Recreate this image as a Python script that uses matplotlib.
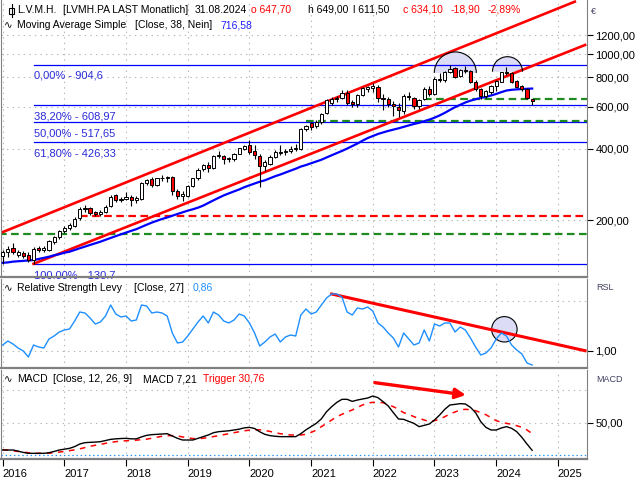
import numpy as np
import matplotlib
matplotlib.use('Agg')
import matplotlib.pyplot as plt
from matplotlib.patches import Wedge, Arc, Circle, Rectangle
from matplotlib.lines import Line2D
from matplotlib.transforms import IdentityTransform
from matplotlib.ticker import NullLocator

plt.rcParams['font.family'] = ['Liberation Sans', 'DejaVu Sans']
plt.rcParams['lines.scale_dashes'] = False

W, H = 640, 480

# ---------------- data (monthly, Jan 2016 .. Aug 2024) ----------------
opens = [141, 146, 152, 142, 145, 142, 136, 152, 149, 150, 162, 169,
         179, 185, 188, 203, 222, 224, 216, 211, 217, 229, 255, 243,
         245, 250, 242, 245, 286, 297, 282, 300, 301, 303, 265, 252,
         253, 277, 300, 327, 342, 330, 372, 373, 361, 362, 380, 400,
         414, 390, 372, 337, 345, 370, 388, 386, 392, 400, 398, 482,
         512, 498, 520, 565, 625, 645, 655, 688, 627, 615, 675, 715,
         720, 730, 655, 650, 615, 598, 578, 668, 655, 605, 645, 712,
         682, 790, 775, 842, 875, 810, 862, 850, 765, 712, 665, 695,
         735, 765, 840, 833, 768, 735, 712, 647.7]
highs = [149, 155, 160, 150, 148, 146, 154, 155, 156, 165, 172, 182,
         189, 194, 205, 226, 232, 228, 219, 221, 231, 254, 258, 249,
         262, 254, 252, 289, 299, 303, 302, 310, 308, 308, 270, 265,
         280, 302, 330, 345, 350, 375, 390, 376, 370, 385, 404, 415,
         436, 416, 380, 358, 375, 395, 414, 400, 410, 420, 490, 505,
         520, 530, 565, 645, 660, 665, 708, 708, 640, 680, 725, 735,
         758, 745, 680, 660, 635, 620, 680, 690, 660, 650, 730, 735,
         800, 830, 850, 904.6, 880, 870, 895, 855, 775, 720, 710, 740,
         775, 845, 885, 840, 780, 745, 720, 649]
lows = [131, 140, 144, 140, 138, 133, 130.7, 146, 146, 148, 158, 166,
        176, 181, 186, 200, 216, 210, 207, 207, 215, 227, 238, 238,
        243, 230, 236, 243, 280, 275, 278, 292, 290, 255, 245, 240,
        250, 275, 296, 322, 320, 328, 365, 345, 350, 355, 378, 395,
        380, 362, 276, 322, 340, 365, 375, 375, 385, 392, 395, 475,
        478, 490, 510, 560, 610, 630, 645, 612, 600, 600, 665, 690,
        690, 630, 580, 600, 550, 545, 560, 640, 585, 585, 640, 665,
        675, 765, 760, 830, 795, 800, 830, 755, 700, 645, 655, 680,
        700, 760, 820, 755, 720, 700, 645, 611.5]
closes = [146, 151, 147, 146, 141, 136, 151, 149, 153, 163, 169, 179,
          185, 190, 201, 222, 225, 214, 212, 217, 228, 251, 243, 245,
          249, 242, 248, 286, 295, 282, 300, 302, 304, 265, 252, 258,
          277, 300, 326, 342, 330, 372, 375, 362, 365, 380, 402, 411,
          388, 376, 337, 350, 370, 388, 384, 392, 400, 402, 482, 498,
          495, 520, 562, 640, 650, 655, 688, 625, 618, 672, 718, 727,
          732, 655, 648, 615, 603, 580, 668, 658, 605, 640, 712, 680,
          790, 775, 842, 868, 805, 862, 850, 765, 712, 665, 700, 735,
          768, 840, 833, 765, 728, 712, 653, 634.1]
ma38 = [132, 132.5, 133.5, 134, 134.5, 135, 135.6, 137, 138.5, 140, 142, 143.5,
        145.5, 147, 149.5, 152, 154.5, 157, 159.5, 162, 165, 168, 171, 174,
        177, 180, 183, 187, 191, 195, 198.5, 202, 205, 208.5, 212, 215.5,
        219, 222, 225.5, 230, 236, 242, 248, 254, 259, 264, 269, 275,
        280, 285, 290, 294, 300, 306, 311, 317, 323, 329, 336, 341,
        347, 353, 359, 367, 375, 383, 391, 400, 410, 420, 432, 443,
        452, 461, 468, 475, 481, 487, 494, 501, 508, 514, 522, 530,
        540, 552, 566, 582, 598, 612, 626, 637, 646, 654, 661, 670,
        680, 692, 703, 708, 711, 713, 715, 716.58]
rsl = [1.06, 1.10, 1.07, 1.03, 1.00, 0.94, 1.06, 1.04, 1.03, 1.12, 1.15, 1.19,
       1.21, 1.22, 1.30, 1.39, 1.38, 1.33, 1.27, 1.29, 1.35, 1.46, 1.37, 1.34,
       1.35, 1.30, 1.31, 1.46, 1.45, 1.38, 1.39, 1.38, 1.35, 1.18, 1.08, 1.09,
       1.15, 1.22, 1.29, 1.35, 1.28, 1.39, 1.36, 1.30, 1.28, 1.31, 1.37, 1.35,
       1.28, 1.18, 1.05, 1.09, 1.14, 1.17, 1.09, 1.14, 1.16, 1.15, 1.36, 1.42,
       1.37, 1.39, 1.46, 1.53, 1.57, 1.57, 1.54, 1.39, 1.36, 1.43, 1.42, 1.44,
       1.40, 1.28, 1.24, 1.18, 1.13, 1.04, 1.18, 1.12, 1.06, 1.08, 1.21, 1.10,
       1.27, 1.25, 1.28, 1.28, 1.19, 1.24, 1.21, 1.13, 1.04, 0.96, 0.98, 1.03,
       1.12, 1.18, 1.15, 1.06, 1.01, 0.97, 0.88, 0.86]
macd = [7.7, 7.7, 7.7, 6.0, 4.0, 2.6, 2.6, 2.6, 2.6, 3.5, 5.5, 7.7,
        9.0, 10.3, 13.0, 17.0, 19.1, 19.6, 20.0, 20.6, 22.4, 24.2, 25.0, 25.5,
        25.8, 25.0, 25.0, 28.0, 30.4, 31.5, 32.0, 32.5, 33.0, 29.4, 25.8, 23.2,
        23.2, 23.2, 25.8, 28.4, 31.0, 34.5, 36.1, 36.8, 37.5, 38.7, 40.0, 42.0,
        42.8, 41.0, 36.0, 32.0, 30.0, 29.0, 28.4, 28.4, 28.4, 28.4, 33.0, 39.0,
        44.0, 49.0, 56.0, 67.0, 74.8, 81.5, 86.2, 86.2, 83.0, 85.1, 86.7, 88.2,
        91.3, 88.8, 82.6, 75.9, 65.5, 55.7, 55.2, 52.0, 49.0, 43.9, 45.9, 48.0,
        54.2, 61.9, 70.7, 77.4, 78.4, 79.5, 79.0, 73.8, 65.5, 51.6, 42.8, 38.7,
        38.7, 41.8, 43.9, 41.3, 36.1, 27.3, 17.0, 7.21]
trigger = [8.3, 7.5, 6.5, 5.5, 4.5, 3.5, 2.6, 2.6, 2.6, 2.8, 3.5, 4.5,
           5.5, 6.7, 8.0, 9.5, 11.5, 13.5, 15.0, 16.5, 18.0, 19.5, 20.6, 21.5,
           22.0, 22.5, 23.0, 23.7, 24.5, 26.0, 27.5, 29.0, 30.0, 30.0, 29.5, 28.0,
           26.5, 25.5, 25.0, 26.0, 27.0, 28.5, 30.0, 31.5, 33.0, 34.5, 36.0, 37.5,
           38.5, 39.0, 39.0, 38.0, 36.5, 34.5, 33.0, 32.0, 31.0, 31.0, 31.0, 32.0,
           35.0, 38.5, 43.9, 49.0, 54.2, 59.3, 63.0, 66.6, 69.7, 73.8, 77.4, 80.5,
           81.5, 81.5, 81.0, 77.9, 74.8, 70.7, 65.5, 63.0, 59.3, 56.7, 54.2, 51.6,
           53.2, 55.2, 59.3, 63.5, 66.6, 69.7, 70.7, 70.2, 68.6, 65.5, 62.4, 57.8,
           53.2, 50.6, 49.0, 47.5, 45.4, 42.8, 38.7, 33.0]

years = ['2016', '2017', '2018', '2019', '2020', '2021', '2022', '2023', '2024', '2025']
price_ticks = [200, 400, 600, 800, 1000, 1200]
price_tick_labels = ['200,00', '400,00', '600,00', '800,00', '1000,00', '1200,00']

fib_levels = [904.6, 608.97, 517.65, 426.33, 130.7]
fib_labels = ['0,00% - 904,6', '38,20% - 608,97', '50,00% - 517,65',
              '61,80% - 426,33', '100,00% - 130,7']
fib_start = 6

# horizontal dashed support / resistance lines: (price, start month, colour)
hlines_dashed = [(647.7, 82, 'green'), (524.0, 59, 'green'),
                 (208.5, 15, 'red'), (174.6, -1, 'green')]

channel_upper = ([-0.1, 111.3], [177.5, 1666.0])
channel_lower = ([6.0, 113.3], [130.7, 1094.0])
rsl_trend = ([64.0, 113.3], [1.57, 1.003])
macd_arrow = ((72.4, 112.0), (90.1, 92.9))
domes = [(88.05, 834.0), (98.2, 844.0)]
rsl_mark = (97.6, 1.217)

# ---------------- figure ----------------
fig = plt.figure(figsize=(W / 100, H / 100), dpi=100)
fig.patch.set_facecolor('white')

def rect(top, bottom):
    return [1 / W, 1 - bottom / H, 586 / W, (bottom - top) / H]

axp = fig.add_axes(rect(0, 277))
axr = fig.add_axes(rect(279, 368), sharex=axp)
axm = fig.add_axes(rect(370, 459), sharex=axp)

XMIN, XMAX = -0.33, 113.67
GRID = dict(color='#b8b8b8', lw=0.8, ls=(0, (1, 3)), zorder=0.5)
GREEN = '#1f8a1f'
year_pos = list(range(0, 12 * len(years), 12))

for ax in (axp, axr, axm):
    ax.set_facecolor('white')
    for s in ('left', 'right', 'bottom', 'top'):
        ax.spines[s].set_color('#808080')
        ax.spines[s].set_linewidth(0.8)
    ax.spines['bottom'].set_linewidth(1.6)
    ax.spines['top'].set_visible(False)
    for k in year_pos:
        ax.axvline(k, **GRID)
    ax.yaxis.tick_right()
    ax.tick_params(axis='y', direction='out', length=4, width=0.8, pad=2,
                   labelsize=8, colors='black')
    ax.tick_params(axis='x', length=0, labelbottom=False)
    ax.set_xlim(XMIN, XMAX)

# ---- price panel ----
axp.set_yscale('log')
axp.set_ylim(115.0, 1693.0)
axp.yaxis.set_minor_locator(NullLocator())
axp.set_yticks(price_ticks)
axp.set_yticklabels(price_tick_labels)
for p in price_ticks:
    axp.axhline(p, **GRID)

idx = np.arange(len(closes))
o = np.array(opens, float)
c = np.array(closes, float)
hi = np.array(highs, float)
lo = np.array(lows, float)

# fib lines
for lev, lab in zip(fib_levels, fib_labels):
    axp.plot([fib_start, XMAX], [lev, lev], color='#0000ff', lw=0.9, zorder=2)
    t = axp.annotate(lab, xy=(fib_start, lev), xytext=(0, -4.5), textcoords='offset points',
                     ha='left', va='top', fontsize=8, color='#2a2ad8', zorder=2)
    t.set_clip_on(True)

# dashed lines
for lev, k0, col in hlines_dashed:
    colr = GREEN if col == 'green' else '#ff0000'
    ln, = axp.plot([k0, XMAX], [lev, lev], color=colr, lw=1.6, zorder=2.2)
    ln.set_dashes((5.5, 3.2))

# channel
axp.plot(channel_upper[0], channel_upper[1], color='#ff0000', lw=1.9, zorder=2.5)
axp.plot(channel_lower[0], channel_lower[1], color='#ff0000', lw=1.9, zorder=2.5)

# moving average
axp.plot(idx, ma38, color='#0000ff', lw=1.6, zorder=2.6)

# domes (drawn in pixel space, anchored on data points)
for (dk, dp), r in zip(domes, (21, 15)):
    cx, cy = axp.transData.transform((dk, dp))
    w = Wedge((cx, cy), r, 0, 180, facecolor='#dcdcf6', edgecolor='none',
              transform=IdentityTransform(), zorder=1.5)
    axp.add_patch(w)
    a = Arc((cx, cy), 2 * r, 2 * r, theta1=0, theta2=180, edgecolor='black', lw=0.8,
            transform=IdentityTransform(), zorder=3.5)
    axp.add_patch(a)

# candles
up = c >= o
axp.vlines(idx, lo, hi, color='black', lw=0.8, zorder=3)
body_lo = np.minimum(o, c)
body_h = np.maximum(np.abs(c - o), body_lo * 0.006)
axp.bar(idx, body_h, bottom=body_lo, width=0.62,
        color=['white' if u else '#ff0000' for u in up],
        edgecolor='black', linewidth=0.7, zorder=4)

# ---- RSL panel ----
axr.set_ylim(0.83, 1.72)
axr.set_yticks([1.0])
axr.set_yticklabels(['1,00'])
axr.axhline(1.0, **GRID)
axr.axhline(1.5, **GRID)
cx, cy = axr.transData.transform(rsl_mark)
axr.add_patch(Circle((cx, cy), 12.7, facecolor='#dcdcf6', edgecolor='black', lw=0.8,
                     transform=IdentityTransform(), zorder=1.5))
axr.plot(idx, rsl, color='#1e8fff', lw=1.0, zorder=3)
axr.plot(rsl_trend[0], rsl_trend[1], color='#ff0000', lw=2.2, zorder=2.5)

# ---- MACD panel ----
axm.set_ylim(-6.2, 131.6)
axm.set_yticks([50])
axm.set_yticklabels(['50,00'])
axm.axhline(50, **GRID)
axm.axhline(100, **GRID)
axm.axhline(0, color='#1e8fff', lw=0.9, ls=(0, (1, 2)), zorder=1)
axm.plot(idx, macd, color='black', lw=1.0, zorder=3)
tl, = axm.plot(idx, trigger, color='#ff0000', lw=1.1, zorder=2.8)
tl.set_dashes((4, 4))
axm.annotate('', xy=macd_arrow[1], xytext=macd_arrow[0],
             arrowprops=dict(arrowstyle='-|>,head_length=0.6,head_width=0.3',
                             color='#ff0000', lw=2.4, shrinkA=0, shrinkB=0), zorder=4)

axm.set_xticks(year_pos)
axm.set_xticklabels(years)
axm.tick_params(axis='x', length=5, width=0.8, direction='out', pad=2,
                labelbottom=True, labelsize=8, colors='black')
for lab in axm.get_xticklabels():
    lab.set_horizontalalignment('left')

# ---------------- header texts ----------------
HS = 7.5
def ftext(x, y, s, color='black', size=HS, **kw):
    fig.text(x / W, 1 - y / H, s, color=color, fontsize=size, ha='left', va='center', **kw)

RED = '#ff0000'
# candle icon
fig.add_artist(Line2D([11.5 / W, 11.5 / W], [1 - 4 / H, 1 - 17 / H], color='black', lw=0.8,
                      transform=fig.transFigure))
fig.add_artist(Rectangle((9 / W, 1 - 14 / H), 5 / W, 6 / H, facecolor='white',
                         edgecolor='black', lw=0.8, transform=fig.transFigure))
ftext(17, 10, 'L.V.M.H.')
ftext(63, 10, '[LVMH.PA LAST Monatlich]')
ftext(195, 10, '31.08.2024')
ftext(251, 10, 'o 647,70', RED)
ftext(308, 10, 'h 649,00')
ftext(353, 10, 'l 611,50')
ftext(403, 10, 'c 634,10', RED)
ftext(451, 10, '-18,90', RED)
ftext(488, 10, '-2,89%', RED)

ftext(4, 25, '\u223f')
ftext(17, 25, 'Moving Average Simple')
ftext(135, 25, '[Close, 38, Nein]')
ftext(220, 25, '716,58', '#2020ff')

ftext(4, 288, '\u223f')
ftext(17, 288, 'Relative Strength Levy')
ftext(134, 288, '[Close, 27]')
ftext(193, 288, '0,86', '#1e8fff')

ftext(4, 379, '\u223f')
ftext(17, 379, 'MACD')
ftext(53, 379, '[Close, 12, 26, 9]')
ftext(143, 379, 'MACD 7,21')
ftext(203, 379, 'Trigger 30,76', RED)

ftext(591, 11, '\u20ac', '#404060', size=6.5)
ftext(596, 288, 'RSL', '#404060', size=6.5)
ftext(596, 380, 'MACD', '#404060', size=6.5)

fig.savefig('out.png', dpi=100)
